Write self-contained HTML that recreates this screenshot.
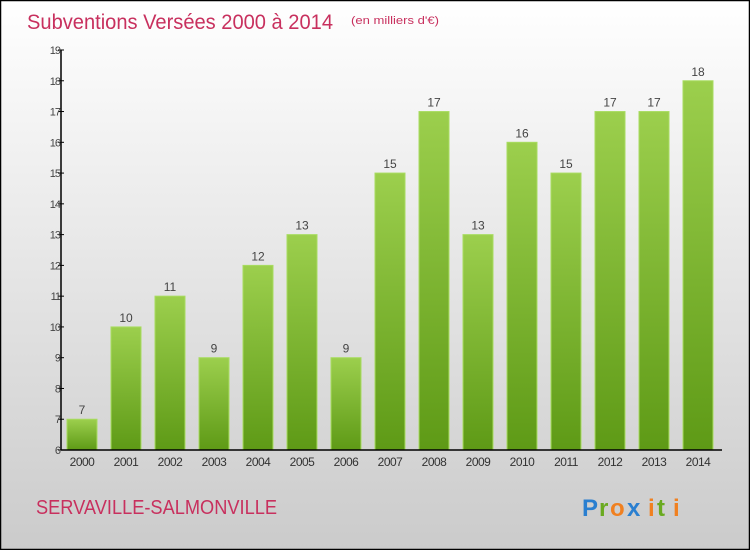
<!DOCTYPE html>
<html><head><meta charset="utf-8"><style>
body{margin:0;width:750px;height:550px;overflow:hidden;font-family:"Liberation Sans",sans-serif}
</style></head><body>
<svg width="750" height="550" xmlns="http://www.w3.org/2000/svg">
<defs>
<linearGradient id="bg" x1="0" y1="0" x2="0" y2="1"><stop offset="0" stop-color="#ffffff"/><stop offset="1" stop-color="#cbcbcb"/></linearGradient>
<linearGradient id="bar" x1="0" y1="0" x2="0" y2="1"><stop offset="0" stop-color="#9ccf4d"/><stop offset="1" stop-color="#5e9a16"/></linearGradient>
</defs>
<rect x="0.5" y="0.5" width="749" height="549" fill="url(#bg)" stroke="#000" stroke-width="1.5"/>
<text x="27" y="29" font-size="21" fill="#c8305e" textLength="306" lengthAdjust="spacingAndGlyphs">Subventions Versées 2000 à 2014</text>
<text x="351" y="24" font-size="11" fill="#c8305e" textLength="88" lengthAdjust="spacingAndGlyphs">(en milliers d'€)</text>
<g id="yaxis"></g>
<g id="bars"></g>
<g id="xaxis"></g>
<text x="36" y="514" font-size="20" fill="#c8305e" textLength="241" lengthAdjust="spacingAndGlyphs">SERVAVILLE-SALMONVILLE</text>
<g font-size="24" font-weight="bold">
<text x="582" y="516" fill="#2a7fd0">P</text><text x="599" y="516" fill="#6aaa20">r</text><text x="610" y="516" fill="#f08020">o</text><text x="627" y="516" fill="#2a7fd0">x</text><text x="648" y="516" fill="#f08020">i</text><text x="657" y="516" fill="#6aaa20">t</text><text x="673" y="516" fill="#f08020">i</text>
</g>
</svg>
<script>
const categories=["2000","2001","2002","2003","2004","2005","2006","2007","2008","2009","2010","2011","2012","2013","2014"];
const values=[7,10,11,9,12,13,9,15,17,13,16,15,17,17,18];
const yTicks=[6,7,8,9,10,11,12,13,14,15,16,17,18,19];
const NS="http://www.w3.org/2000/svg";
const y0=450,yTop=50,vMin=6,vMax=19,x0=61,xEnd=722;
function yScale(v){return y0-(v-vMin)*(y0-yTop)/(vMax-vMin);}
function xScale(i){return 67+i*44;}
function mk(tag,attrs,parent){const e=document.createElementNS(NS,tag);for(const k in attrs)e.setAttribute(k,attrs[k]);parent.appendChild(e);return e;}
const ya=document.getElementById('yaxis'),ba=document.getElementById('bars'),xa=document.getElementById('xaxis');
mk('line',{x1:x0,y1:yTop,x2:x0,y2:y0,stroke:'#000','stroke-width':1.5},ya);
mk('line',{x1:x0,y1:y0,x2:xEnd,y2:y0,stroke:'#000','stroke-width':1.5},xa);
yTicks.forEach(t=>{
  const y=yScale(t);
  const l=mk('line',{x1:x0-3,y1:y,x2:x0+3,y2:y,stroke:'#000'},ya);
  
  
  const tx=mk('text',{x:x0-1,y:y+4,'font-size':11,fill:'#444','text-anchor':'end','letter-spacing':'-1'},ya);
  tx.textContent=t;
  
  
});
values.forEach((v,i)=>{
  const x=xScale(i),y=yScale(v);
  const r=mk('rect',{x:x,y:y,width:30,height:y0-y,fill:'url(#bar)',stroke:'#a8dc60','stroke-width':1},ba);
  
  
  const t=mk('text',{x:x+15,y:y-5,'font-size':12,fill:'#444','text-anchor':'middle'},ba);
  t.textContent=v;
  
  
  const c=mk('text',{x:x+15,y:466,'font-size':12,fill:'#333','text-anchor':'middle','letter-spacing':'-0.5'},xa);
  c.textContent=categories[i];
  
  
});
</script>
</body></html>
